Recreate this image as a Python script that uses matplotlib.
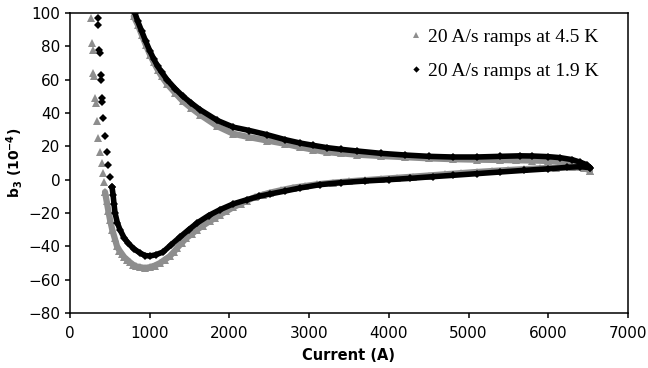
import matplotlib
matplotlib.use("Agg")
import matplotlib.pyplot as plt
from matplotlib.lines import Line2D

# ---------------- data ----------------
# 4.5 K, gray triangles
g_steep_I = [263, 276, 289, 289, 301, 314, 326, 339, 351, 376, 401, 414, 427, 439]
g_steep_b3 = [97, 82, 78, 64, 62, 49, 46, 35, 25, 16.6, 10, 4, -1.4, -7.4]

g_up_I = [439, 460, 482, 502, 530, 560, 590, 620, 650, 680, 715, 750, 790, 830, 879,
          940, 1004, 1067, 1130, 1190, 1250, 1300, 1343, 1400, 1460, 1530, 1594, 1670,
          1750, 1820, 1882, 1960, 2050, 2140, 2221, 2320, 2420, 2510, 2650, 2800, 2950,
          3100, 3300, 3500, 3700, 3900, 4100, 4300, 4500, 4700, 4900, 5100, 5300, 5500,
          5700, 5900, 6100, 6300, 6450, 6520]
g_up_b3 = [-7.4, -13, -19, -24, -30, -35, -40, -42.5, -44.5, -46.5, -48, -49.5, -51,
           -52, -52.5, -53, -52.5, -51.5, -50, -48, -46, -43.5, -41, -38, -35, -32.5,
           -30, -27.5, -25, -23, -21, -19, -16.5, -14.5, -12.5, -10.5, -9, -7.8, -6.3,
           -4.8, -3.8, -2.8, -1.8, -1, -0.3, 0.4, 1.1, 1.8, 2.5, 3.2, 3.9, 4.6, 5.2,
           5.8, 6.3, 6.8, 7.2, 7.4, 7.0, 5.5]

g_down_I = [6520, 6470, 6400, 6300, 6150, 6000, 5800, 5600, 5400, 5100, 4800, 4500,
            4200, 3900, 3600, 3400, 3225, 3050, 2885, 2700, 2470, 2250, 2050, 1850,
            1631, 1520, 1418, 1320, 1217, 1150, 1100, 1050, 1004, 950, 900, 850, 800]
g_down_b3 = [5.5, 7.5, 9, 10, 10.8, 11.2, 11.5, 11.6, 11.8, 12, 12.3, 12.8, 13.5,
             14.2, 15, 15.8, 16.5, 18, 19.5, 21.5, 23.5, 25.5, 27.5, 32, 39, 43, 47,
             52, 57.5, 62, 66, 70.5, 75, 81, 87, 93, 98]

# 1.9 K, black diamonds
b_steep_I = [351, 351, 364, 376, 389, 389, 401, 401, 414, 439, 464, 477, 502, 527]
b_steep_b3 = [97, 92.8, 78, 76, 63, 60, 49, 46.6, 37, 26, 16.6, 8.8, 1.6, -4.4]

b_up_I = [527, 540, 552, 565, 595, 627, 680, 728, 800, 879, 940, 1004, 1080, 1167,
          1270, 1380, 1490, 1594, 1740, 1882, 2050, 2221, 2370, 2510, 2700, 2885, 3135,
          3400, 3700, 4000, 4270, 4550, 4800, 5100, 5395, 5700, 6000, 6235, 6400, 6525]
b_up_b3 = [-4.4, -9, -14.5, -20, -26, -30, -35, -38, -41.5, -44, -45.5, -45.8, -45,
           -43.4, -39, -34.4, -30, -26, -21.5, -18, -14.5, -12, -10, -8.6, -6.8, -5,
           -3, -1.8, -0.8, 0, 0.8, 1.8, 2.6, 3.6, 4.6, 5.6, 6.5, 7.4, 7.8, 7.2]

b_down_I = [6525, 6480, 6400, 6300, 6150, 6000, 5800, 5645, 5400, 5100, 4800, 4500,
            4200, 3900, 3600, 3400, 3225, 3050, 2885, 2700, 2470, 2250, 2050, 1850,
            1631, 1520, 1418, 1320, 1217, 1150, 1100, 1050, 1004, 950, 900, 850, 815]
b_down_b3 = [7.2, 9, 10.5, 12, 13.2, 13.8, 14.2, 14.3, 14, 13.6, 13.6, 14, 14.8,
             15.8, 17.2, 18.2, 19.2, 20.6, 22, 24, 27, 29.5, 31.5, 35.5, 42, 46, 50,
             54.5, 60, 64.5, 68, 72.5, 77, 83, 89, 95, 100]

x_ticks = [0, 1000, 2000, 3000, 4000, 5000, 6000, 7000]
y_ticks = [-80, -60, -40, -20, 0, 20, 40, 60, 80, 100]
labels = ["20 A/s ramps at 4.5 K", "20 A/s ramps at 1.9 K"]

# ---------------- figure ----------------
gray = "#8e8e8e"
fig = plt.figure(figsize=(6.48, 3.68), dpi=100)
ax = fig.add_axes([70 / 648, 55 / 368, 558 / 648, 300 / 368])

# gray series
ax.plot(g_up_I, g_up_b3, color=gray, lw=4.5, solid_capstyle="round", zorder=2)
ax.plot(g_down_I, g_down_b3, color=gray, lw=4.5, solid_capstyle="round", zorder=2)
for xs, ys in [(g_steep_I, g_steep_b3), (g_up_I, g_up_b3), (g_down_I, g_down_b3)]:
    ax.plot(xs, ys, ls="none", marker="^", ms=5.5, mfc=gray, mec=gray, mew=0, zorder=2)

# black series
ax.plot(b_up_I, b_up_b3, color="black", lw=4.0, solid_capstyle="round", zorder=3)
ax.plot(b_down_I, b_down_b3, color="black", lw=4.0, solid_capstyle="round", zorder=3)
for xs, ys in [(b_steep_I, b_steep_b3), (b_up_I, b_up_b3), (b_down_I, b_down_b3)]:
    ax.plot(xs, ys, ls="none", marker="D", ms=3.6, mfc="black", mec="black", mew=0, zorder=3)

ax.set_xlim(0, 7000)
ax.set_ylim(-80, 100)
ax.set_xticks(x_ticks)
ax.set_yticks(y_ticks)
for s in ax.spines.values():
    s.set_linewidth(1.1)
    s.set_color("black")
ax.tick_params(direction="out", length=3.5, width=1.1, labelsize=11, colors="black")
ax.tick_params(axis="x", pad=6)

ax.set_xlabel("Current (A)", fontsize=10.5, fontweight="bold")
ax.xaxis.set_label_coords(0.5, -0.115)
ax.xaxis.label.set_va("top")
ax.set_ylabel(r"b$_\mathbf{3}$ (10$^\mathbf{-4}$)", fontsize=10, fontweight="bold")
ax.yaxis.set_label_coords(-45 / 558, 0.5)

handles = [
    Line2D([], [], ls="none", marker="^", ms=4.5, mfc=gray, mec=gray, mew=0),
    Line2D([], [], ls="none", marker="D", ms=3.2, mfc="black", mec="black", mew=0),
]
leg = ax.legend(handles, labels, loc="upper right", bbox_to_anchor=(0.978, 1.008),
                frameon=False, handlelength=0.6, handletextpad=0.3, labelspacing=0.85,
                prop={"family": "Liberation Serif", "size": 14})

fig.savefig("out.png", dpi=100)
